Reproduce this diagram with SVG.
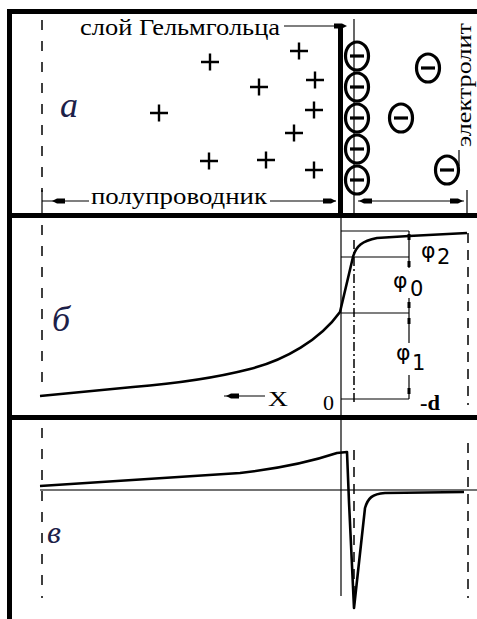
<svg xmlns="http://www.w3.org/2000/svg" xmlns:xlink="http://www.w3.org/1999/xlink" width="477" height="619" viewBox="0 0 477 619">
<style>
.frame{stroke:#000;stroke-width:5;fill:none}
.thick{stroke:#000;stroke-width:5;fill:none}
.thin{stroke:#000;stroke-width:1.2;fill:none}
.axis{stroke:#444;stroke-width:1.5;fill:none}
.dash{stroke:#000;stroke-width:1.5;stroke-dasharray:10 11;fill:none}
.dash2{stroke:#000;stroke-width:1.5;stroke-dasharray:10 7;fill:none}
.dashdot{stroke:#000;stroke-width:1.5;stroke-dasharray:9 3 2 3;fill:none}
.curve{stroke:#000;stroke-width:2.6;fill:none;stroke-linejoin:round}
.plus{stroke:#000;stroke-width:2.4;fill:none}
.ion{stroke:#000;stroke-width:3.2;fill:none}
.ah{fill:#000;stroke:none}
.serif{font-family:"Liberation Serif","DejaVu Serif","Times New Roman",serif;fill:#000}
.ital{font-family:"Liberation Serif","DejaVu Serif","Times New Roman",serif;font-style:italic;fill:#1c2048}
.greek{font-family:"DejaVu Sans","Noto Sans","Liberation Sans",sans-serif;fill:#000}
</style>
<defs>
<path id="ah" d="M0,0 L5,-2.6 L13,-2.6 L13,2.6 L5,2.6 Z"/>
<path id="plus" d="M-9,0 H9 M0,-8.5 V8.5"/>
<g id="neg"><ellipse rx="11.5" ry="14"/><path d="M-7,0 H7"/></g>
</defs>

<g id="frame">
<path class="frame" d="M9.5,619 V11.5 H477"/>
<path class="frame" d="M9.5,215.5 H477"/>
<path class="frame" d="M9.5,417.5 H477"/>
</g>

<g id="panel-a">
<line class="dash" x1="42" y1="20" x2="42" y2="192"/>
<text class="ital" x="60" y="117" font-size="36">а</text>
<g id="plus-charges">
<use xlink:href="#plus" class="plus" x="210" y="62"/>
<use xlink:href="#plus" class="plus" x="299" y="51"/>
<use xlink:href="#plus" class="plus" x="259" y="87"/>
<use xlink:href="#plus" class="plus" x="315" y="80"/>
<use xlink:href="#plus" class="plus" x="159" y="113"/>
<use xlink:href="#plus" class="plus" x="314" y="110"/>
<use xlink:href="#plus" class="plus" x="294" y="133"/>
<use xlink:href="#plus" class="plus" x="209" y="161"/>
<use xlink:href="#plus" class="plus" x="266" y="160"/>
<use xlink:href="#plus" class="plus" x="314" y="170"/>
</g>
<g id="helmholtz-ions">
<use xlink:href="#neg" class="ion" x="357" y="56"/>
<use xlink:href="#neg" class="ion" x="357" y="87"/>
<use xlink:href="#neg" class="ion" x="357" y="118"/>
<use xlink:href="#neg" class="ion" x="357" y="149"/>
<use xlink:href="#neg" class="ion" x="357" y="180"/>
</g>
<g id="free-ions">
<use xlink:href="#neg" class="ion" x="428" y="68"/>
<use xlink:href="#neg" class="ion" x="401" y="118"/>
<use xlink:href="#neg" class="ion" x="447" y="170"/>
</g>
<line class="thick" x1="340.5" y1="28" x2="340.5" y2="214"/>
<line class="thin" x1="354" y1="19" x2="354" y2="214"/>
<g id="label-helmholtz">
<text class="serif" x="80" y="35" font-size="23" textLength="200" lengthAdjust="spacingAndGlyphs">слой Гельмгольца</text>
<line class="thin" x1="284" y1="26" x2="338" y2="26"/>
<use xlink:href="#ah" class="ah" transform="translate(347,26) rotate(180)"/>
</g>
<g id="label-semiconductor">
<line class="thin" x1="42" y1="190" x2="42" y2="213"/>
<line class="thin" x1="42" y1="201" x2="89" y2="201"/>
<use xlink:href="#ah" class="ah" transform="translate(52,201)"/>
<text class="serif" x="91" y="204" font-size="23" textLength="176" lengthAdjust="spacingAndGlyphs">полупроводник</text>
<line class="thin" x1="270" y1="201" x2="336" y2="201"/>
<use xlink:href="#ah" class="ah" transform="translate(336,201) rotate(180)"/>
</g>
<g id="label-electrolyte">
<line class="thin" x1="358" y1="201" x2="464" y2="201"/>
<use xlink:href="#ah" class="ah" transform="translate(359,201)"/>
<use xlink:href="#ah" class="ah" transform="translate(463,201) rotate(180)"/>
<line class="thin" x1="467" y1="190" x2="467" y2="214"/>
<line class="thin" x1="459" y1="150" x2="459" y2="166"/>
<text class="serif" transform="translate(471,147) rotate(-90)" font-size="22" textLength="124" lengthAdjust="spacingAndGlyphs">электролит</text>
</g>
</g>

<g id="panel-b">
<line class="dash" x1="42" y1="225" x2="42" y2="388"/>
<text class="ital" x="52" y="331" font-size="36">б</text>
<line class="thin" x1="341" y1="218" x2="341" y2="415"/>
<line class="dashdot" x1="354" y1="240" x2="354" y2="405"/>
<line class="dash2" x1="468" y1="233" x2="468" y2="405"/>
<g id="levels">
<line class="thin" x1="341" y1="231" x2="409" y2="231"/>
<line class="thin" x1="341" y1="257" x2="409" y2="257"/>
<line class="thin" x1="341" y1="313" x2="409" y2="313"/>
<line class="thin" x1="341" y1="399" x2="409" y2="399"/>
</g>
<g id="dimension">
<line class="thin" x1="409" y1="231" x2="409" y2="268"/>
<line class="thin" x1="409" y1="298" x2="409" y2="343"/>
<line class="thin" x1="409" y1="375" x2="409" y2="399"/>
<rect class="ah" x="407.5" y="234" width="3" height="6"/>
<rect class="ah" x="407.5" y="261" width="3" height="6"/>
<rect class="ah" x="407.5" y="302" width="3" height="6"/>
<rect class="ah" x="407.5" y="318" width="3" height="6"/>
<rect class="ah" x="407.5" y="388" width="3" height="6"/>
</g>
<path class="curve" d="M40,396 L133,387 C170,384 215,378 250,369 C285,360 320,340 340,312 L353,257 C356,246 362,241 377,238 L409,236 L467,233"/>
<text class="greek" x="421" y="258" font-size="22">φ</text>
<text class="greek" x="437" y="264" font-size="21">2</text>
<text class="greek" x="393" y="288" font-size="22">φ</text>
<text class="greek" x="410" y="296" font-size="21">0</text>
<text class="greek" x="396" y="360" font-size="22">φ</text>
<text class="greek" x="412" y="370" font-size="21">1</text>
<g id="x-axis-label">
<line class="thin" x1="224" y1="396" x2="265" y2="396"/>
<use xlink:href="#ah" class="ah" transform="translate(226,396)"/>
<text class="serif" x="268" y="406" font-size="22" textLength="20" lengthAdjust="spacingAndGlyphs">X</text>
</g>
<text class="serif" x="323" y="410" font-size="22">0</text>
<text class="serif" x="420" y="410" font-size="22" font-weight="bold" textLength="20" lengthAdjust="spacingAndGlyphs">-d</text>
</g>

<g id="panel-c">
<line class="dash" x1="42" y1="428" x2="42" y2="598"/>
<text class="ital" x="47" y="543" font-size="32">в</text>
<line class="axis" x1="40" y1="490" x2="477" y2="490"/>
<line class="thin" x1="341" y1="419" x2="341" y2="596"/>
<line class="dash2" x1="354" y1="450" x2="354" y2="606"/>
<line class="dash2" x1="468" y1="443" x2="468" y2="598"/>
<path class="curve" d="M40,486 L240,473 C275,469 310,462 337,453 L347,452 L349,502 L354,608 L365,508 C368,498 372,494 385,493 L464,492"/>
</g>
</svg>
